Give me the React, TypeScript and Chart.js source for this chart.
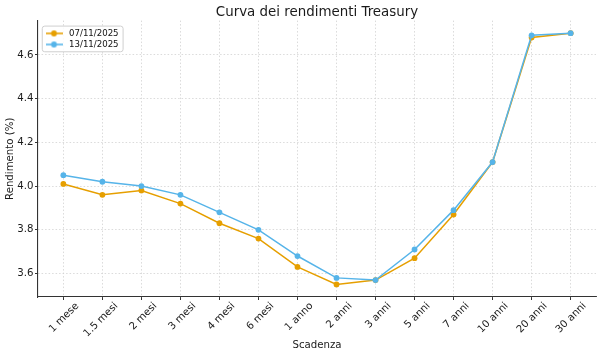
import React, { useEffect, useRef } from 'react';
import { Chart, registerables } from 'chart.js';

Chart.register(...registerables);

const categories = ['1 mese', '1.5 mesi', '2 mesi', '3 mesi', '4 mesi', '6 mesi', '1 anno', '2 anni', '3 anni', '5 anni', '7 anni', '10 anni', '20 anni', '30 anni'];
const yields0711 = [4.01, 3.96, 3.98, 3.92, 3.83, 3.76, 3.63, 3.55, 3.57, 3.67, 3.87, 4.11, 4.68, 4.70];
const yields1311 = [4.05, 4.02, 4.00, 3.96, 3.88, 3.80, 3.68, 3.58, 3.57, 3.71, 3.89, 4.11, 4.69, 4.70];
const seriesLabels = ['07/11/2025', '13/11/2025'];
const seriesColors = ['#E69F00', '#56B4E9'];
const yTickValues = [3.6, 3.8, 4.0, 4.2, 4.4, 4.6];
const titleText = 'Curva dei rendimenti Treasury';
const xTitle = 'Scadenza';
const yTitle = 'Rendimento (%)';

const FONT = "'DejaVu Sans', sans-serif";
const TEXT = '#1a1a1a';
const Y_MIN = 3.4925;
const Y_MAX = 4.7575;
const X_MIN = -0.65;
const X_MAX = 13.65;

function makeIcon(color: string): HTMLCanvasElement {
  const c = document.createElement('canvas');
  c.width = 17;
  c.height = 8;
  const g = c.getContext('2d')!;
  g.strokeStyle = color;
  g.lineWidth = 1.5;
  g.beginPath();
  g.moveTo(0, 4);
  g.lineTo(17, 4);
  g.stroke();
  g.fillStyle = color;
  g.beginPath();
  g.arc(8.5, 4, 2.9, 0, Math.PI * 2);
  g.fill();
  return c;
}

const legendFrame = {
  id: 'legendFrame',
  afterLayout(chart: any) {
    const lg = chart.legend;
    if (!lg) return;
    lg.left = chart.chartArea.left + 2.75;
    lg.top = chart.chartArea.top + 6;
  },
  afterDraw(chart: any) {
    const lg = chart.legend;
    if (!lg || !lg.legendHitBoxes || !lg.legendHitBoxes.length) return;
    let l = Infinity, r = -Infinity, t = Infinity, b = -Infinity;
    lg.legendHitBoxes.forEach((h: any) => {
      l = Math.min(l, h.left);
      r = Math.max(r, h.left + h.width);
      t = Math.min(t, h.top);
      b = Math.max(b, h.top + h.height);
    });
    const x0 = l - 1.5, x1 = r + 4, y0 = t - 3.5, y1 = b + 2.5;
    const ctx = chart.ctx;
    ctx.save();
    ctx.beginPath();
    (ctx as any).roundRect(x0 + 0.5, y0 + 0.5, x1 - x0, y1 - y0, 2.5);
    ctx.fillStyle = 'rgba(255,255,255,0.85)';
    ctx.fill();
    ctx.strokeStyle = '#cfcfcf';
    ctx.lineWidth = 1;
    ctx.stroke();
    ctx.restore();
    lg.draw();
  },
};

export default function App() {
  const ref = useRef<HTMLCanvasElement | null>(null);

  useEffect(() => {
    if (!ref.current) return;
    const icons = seriesColors.map(makeIcon);
    const gridOpts = {
      color: '#d2d2d2',
      lineWidth: 0.8,
      drawTicks: true,
      tickLength: 3,
      tickColor: '#333333',
      tickWidth: 1,
      tickBorderDash: [],
    };
    const borderOpts = { display: true, color: '#333333', width: 1.1, dash: [1.5, 2] };
    const makeDs = (label: string, values: number[], color: string, order: number) => ({
      label,
      data: values.map((y, i) => ({ x: i, y })),
      borderColor: color,
      backgroundColor: color,
      pointBackgroundColor: color,
      borderWidth: 1.5,
      pointRadius: 2.9,
      pointBorderWidth: 0,
      tension: 0,
      order,
    });
    const chart = new Chart(ref.current, {
      type: 'line',
      data: {
        datasets: [
          makeDs(seriesLabels[0], yields0711, seriesColors[0], 2),
          makeDs(seriesLabels[1], yields1311, seriesColors[1], 1),
        ],
      },
      options: {
        responsive: false,
        animation: false,
        devicePixelRatio: 1,
        layout: { padding: { left: 0, right: 6, top: 0, bottom: 0 } },
        plugins: {
          title: {
            display: true,
            text: titleText,
            color: TEXT,
            fullSize: false,
            font: { family: FONT, size: 13.4, weight: 'normal' },
            padding: { top: 4.5, bottom: 0 },
          },
          legend: {
            display: true,
            position: 'chartArea',
            align: 'start',
            labels: {
              usePointStyle: true,
              pointStyleWidth: 21.5,
              padding: 2.5,
              color: TEXT,
              font: { family: FONT, size: 8.6 },
              generateLabels: (c: any) =>
                c.data.datasets.map((ds: any, i: number) => ({
                  text: ds.label,
                  fillStyle: ds.borderColor,
                  strokeStyle: ds.borderColor,
                  lineWidth: 0,
                  pointStyle: icons[i],
                  datasetIndex: i,
                  hidden: false,
                  fontColor: TEXT,
                })),
            },
          },
          tooltip: { enabled: false },
        },
        scales: {
          x: {
            type: 'linear',
            min: X_MIN,
            max: X_MAX,
            afterBuildTicks: (s: any) => {
              s.ticks = categories.map((_, i) => ({ value: i }));
            },
            afterFit: (s: any) => {
              s.height = 60;
            },
            ticks: {
              autoSkip: false,
              minRotation: 45,
              maxRotation: 45,
              labelOffset: 14,
              padding: 0,
              color: TEXT,
              font: { family: FONT, size: 10.2 },
              callback: (v: any) => categories[Math.round(Number(v))] ?? '',
            },
            grid: gridOpts,
            border: borderOpts,
            title: {
              display: true,
              text: xTitle,
              color: TEXT,
              font: { family: FONT, size: 10.2 },
              padding: { top: 0, bottom: 6 },
            },
          },
          y: {
            type: 'linear',
            min: Y_MIN,
            max: Y_MAX,
            afterBuildTicks: (s: any) => {
              s.ticks = yTickValues.map((v) => ({ value: v }));
            },
            afterFit: (s: any) => {
              s.width = 38;
            },
            ticks: {
              padding: 1.5,
              color: TEXT,
              font: { family: FONT, size: 10.2 },
              callback: (v: any) => Number(v).toFixed(1),
            },
            grid: gridOpts,
            border: borderOpts,
            title: {
              display: true,
              text: yTitle,
              color: TEXT,
              font: { family: FONT, size: 10.2 },
              padding: { top: 4.5, bottom: 0 },
            },
          },
        },
      } as any,
      plugins: [legendFrame],
    });
    return () => chart.destroy();
  }, []);

  return (
    <div style={{ position: 'absolute', left: 0, top: 0, width: 602, height: 357, background: '#ffffff' }}>
      <canvas ref={ref} width={602} height={357} style={{ display: 'block' }} />
    </div>
  );
}
